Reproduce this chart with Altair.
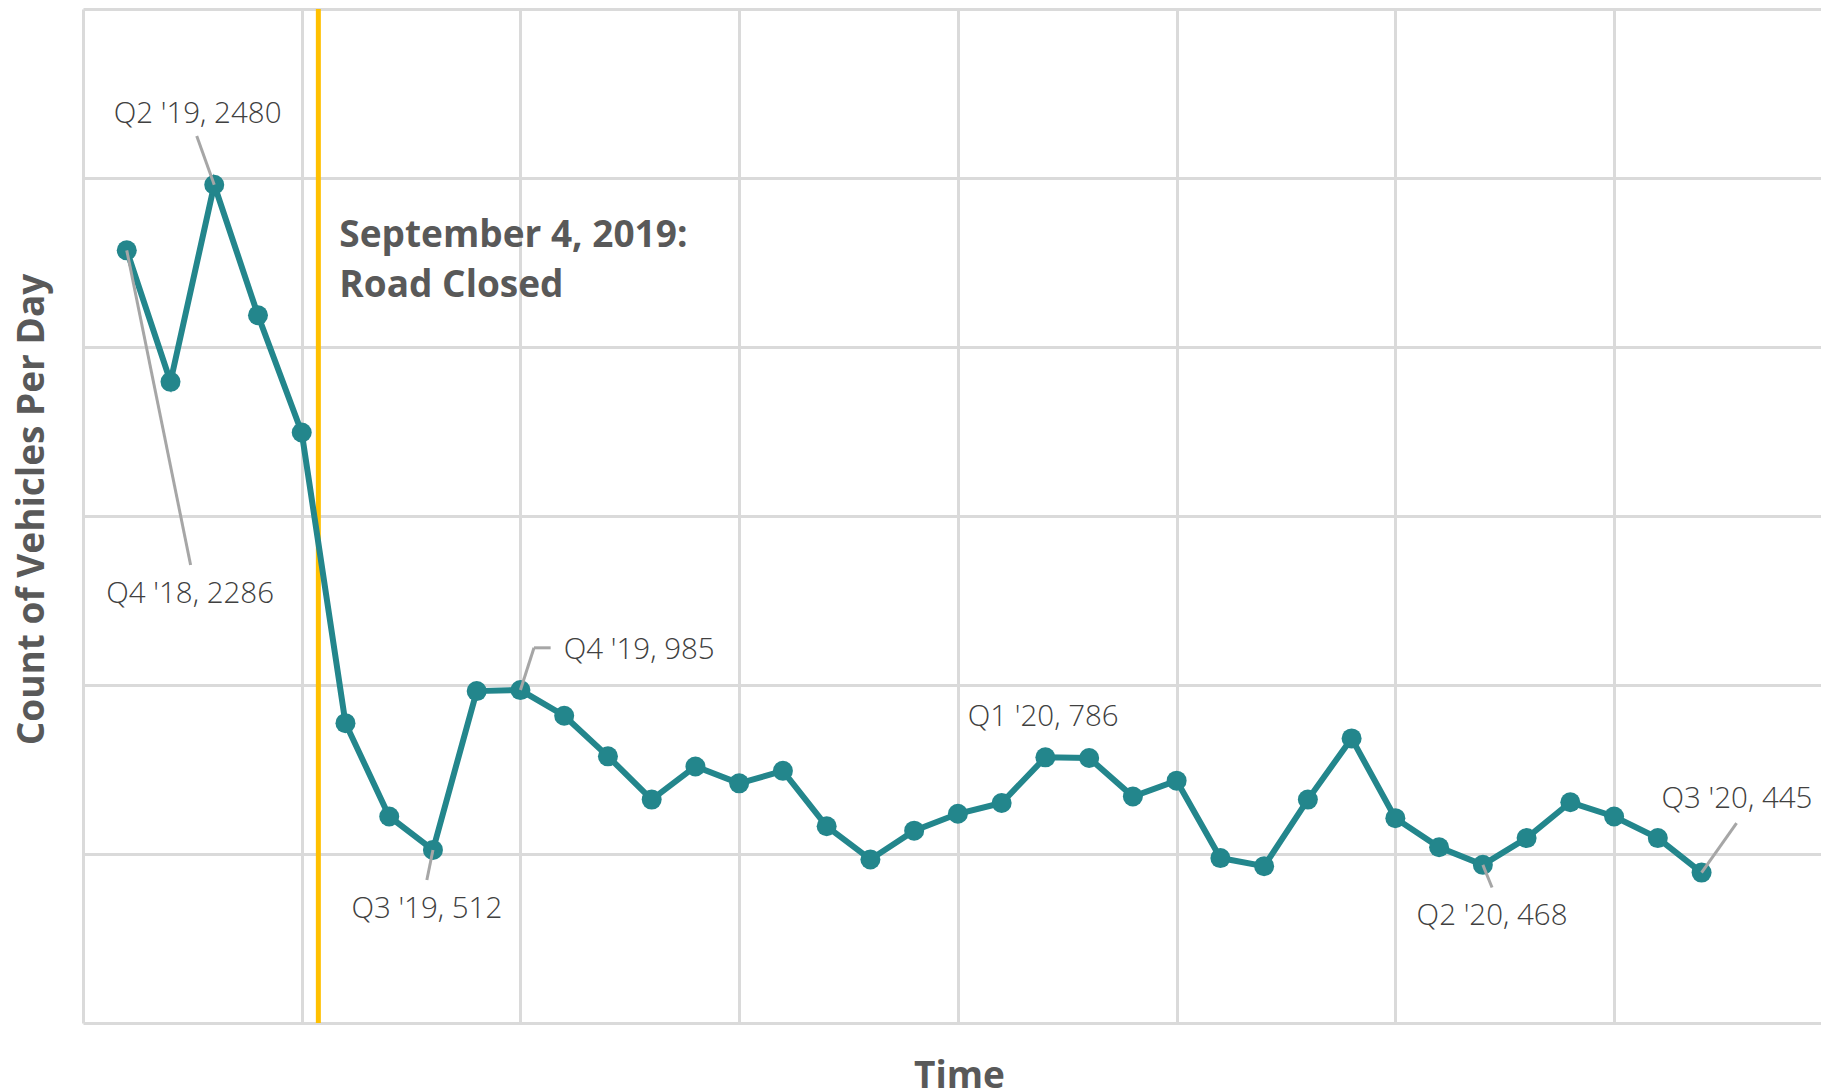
import altair as alt
import pandas as pd

# ---- data ----
period = list(range(1, 38))
vehicles = [2286, 1897, 2480, 2094, 1747, 887, 611, 512, 982, 985,
            909, 789, 661, 759, 709, 746, 582, 484, 569, 619,
            651, 786, 784, 670, 717, 488, 464, 661, 842, 606,
            520, 468, 547, 653, 611, 547, 445]

label_text = ["Q4 '18, 2286", "Q2 '19, 2480", "Q3 '19, 512", "Q4 '19, 985",
              "Q1 '20, 786", "Q2 '20, 468", "Q3 '20, 445"]
label_x = [2.45, 2.62, 7.86, 10.99, 21.95, 32.21, 37.81]
label_y = [1243, 2664, 310, 1076, 879, 290, 635]
label_align = ["center", "center", "center", "left", "center", "center", "center"]

leader_x = [1, 3, 8, 10, 10.31, 32, 37]
leader_y = [2286, 2480, 512, 985, 1110, 468, 445]
leader_x2 = [2.46, 2.6, 7.86, 10.31, 10.69, 32.21, 37.80]
leader_y2 = [1355, 2624, 423, 1110, 1110, 401, 591]

event_x = [5.38]
event_lines = ["September 4, 2019:", "Road Closed"]
event_text_x = [5.86, 5.86]
event_text_y = [2295, 2149]

x_ticks = [0, 5, 10, 15, 20, 25, 30, 35]
y_ticks = [0, 500, 1000, 1500, 2000, 2500, 3000]

series_df = pd.DataFrame({"x": period, "y": vehicles})
labels_df = pd.DataFrame({"x": label_x, "y": label_y, "text": label_text, "align": label_align})
leaders_df = pd.DataFrame({"x": leader_x, "y": leader_y, "x2": leader_x2, "y2": leader_y2})
event_df = pd.DataFrame({"x": event_x})
event_text_df = pd.DataFrame({"x": event_text_x, "y": event_text_y, "text": event_lines})

FONT = "Open Sans"
TITLE_COLOR = "#595959"
TEAL = "#23868c"

xs = alt.Scale(domain=[0, 39.73], nice=False, zero=False)
ys = alt.Scale(domain=[0, 3000], nice=False)

xaxis = alt.Axis(values=x_ticks, labels=False, ticks=False, domain=False, grid=True,
                 gridColor="#dadada", gridWidth=3, title="Time",
                 titleFont=FONT, titleFontSize=37, titleFontWeight="bold",
                 titleColor=TITLE_COLOR, titleX=876, titleY=64,
                 titleBaseline="alphabetic", titleAlign="center")
yaxis = alt.Axis(values=y_ticks, labels=False, ticks=False, domain=False, grid=True,
                 gridColor="#dadada", gridWidth=3, title="Count of Vehicles Per Day",
                 titleFont=FONT, titleFontSize=37, titleFontWeight="bold",
                 titleColor=TITLE_COLOR, titleAngle=270, titleX=-40, titleY=500,
                 titleBaseline="alphabetic", titleAlign="center")

X = alt.X("x:Q", scale=xs, axis=xaxis)
Y = alt.Y("y:Q", scale=ys, axis=yaxis)

event_rule = alt.Chart(event_df).mark_rule(color="#ffc000", strokeWidth=5).encode(x=X)

line = alt.Chart(series_df).mark_line(color=TEAL, strokeWidth=6).encode(x=X, y=Y)
points = alt.Chart(series_df).mark_circle(color=TEAL, size=400, opacity=1).encode(x=X, y=Y)

leaders = alt.Chart(leaders_df).mark_rule(color="#a6a6a6", strokeWidth=3).encode(
    x=X, y=Y, x2=alt.X2("x2:Q"), y2=alt.Y2("y2:Q"))

labels_center = alt.Chart(labels_df).transform_filter(alt.datum.align == "center").mark_text(
    font=FONT, fontSize=29.5, fontWeight=300, color="#404040", align="center",
    baseline="alphabetic").encode(x=X, y=Y, text="text:N")
labels_left = alt.Chart(labels_df).transform_filter(alt.datum.align == "left").mark_text(
    font=FONT, fontSize=29.5, fontWeight=300, color="#404040", align="left",
    baseline="alphabetic").encode(x=X, y=Y, text="text:N")

event_text = alt.Chart(event_text_df).mark_text(
    font=FONT, fontSize=37, fontWeight="bold", color=TITLE_COLOR, align="left",
    baseline="alphabetic").encode(x=X, y=Y, text="text:N")

chart = alt.layer(event_rule, line, points, leaders, labels_center, labels_left, event_text).properties(
    width=1738, height=1014,
    autosize=alt.AutoSizeParams(type="none"),
    padding={"left": 75, "top": 1, "right": 0, "bottom": 80},
    background="white",
).configure_view(stroke=None)

chart.save("out.html", embed_options={"renderer": "svg", "actions": False})
